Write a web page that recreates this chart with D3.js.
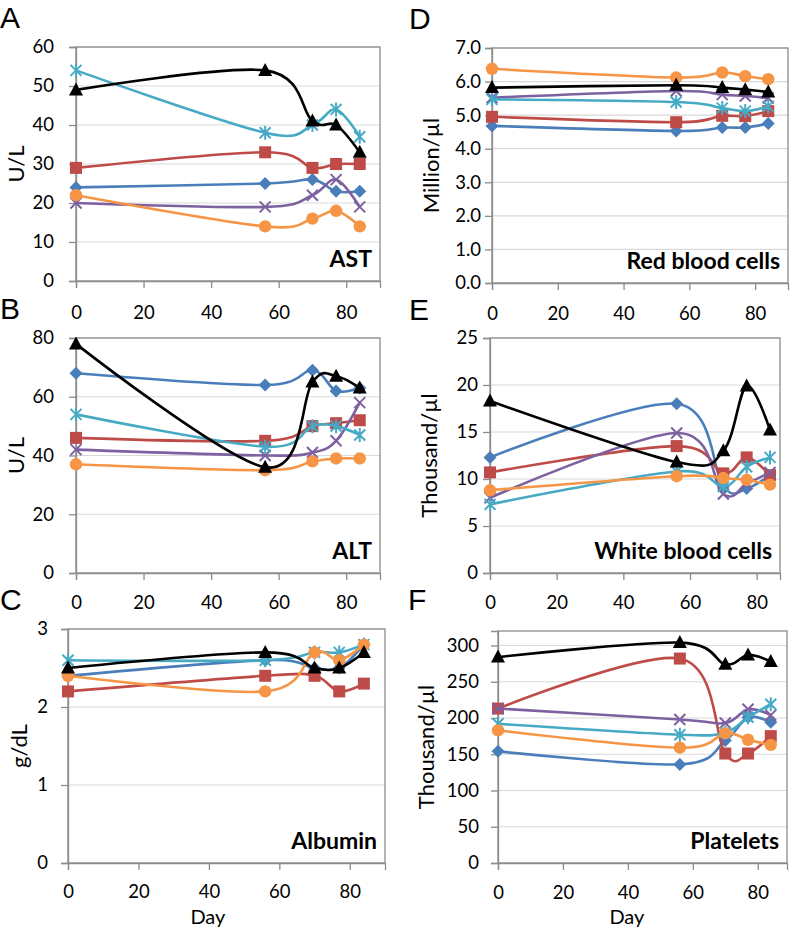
<!DOCTYPE html>
<html>
<head>
<meta charset="utf-8">
<script src="https://cdn.jsdelivr.net/npm/d3@7/dist/d3.min.js"></script>
<style>
  html, body { margin: 0; padding: 0; background: #fff; }
  svg { display: block; font-family: Lato, "Open Sans", sans-serif; }
</style>
</head>
<body>
<svg id="chart" width="799" height="929"></svg>
<script>
// ---------- DATA ----------
const days = [0, 56, 70, 77, 84];
const xTicks = [0, 20, 40, 60, 80];
const seriesKeys = ["blue", "red", "purple", "cyan", "orange", "black"];

// A: AST (U/L)
const astBlue   = [24, 25, 26, 23, 23];
const astRed    = [29, 33, 29, 30, 30];
const astPurple = [20, 19, 22, 26, 19];
const astCyan   = [54, 38, 40, 44, 37];
const astOrange = [22, 14, 16, 18, 14];
const astBlack  = [49, 54, 41, 40, 33];
const astTicks  = [0, 10, 20, 30, 40, 50, 60];

// B: ALT (U/L)
const altBlue   = [68, 64, 69, 62, 63];
const altRed    = [46, 45, 50, 51, 52];
const altPurple = [42, 40, 41, 45, 58];
const altCyan   = [54, 43, 50, 50, 47];
const altOrange = [37, 35, 38, 39, 39];
const altBlack  = [78, 36, 65, 67, 63];
const altTicks  = [0, 20, 40, 60, 80];

// C: Albumin (g/dL)
const albBlue   = [2.4, 2.6, 2.5, 2.5, 2.8];
const albRed    = [2.2, 2.4, 2.4, 2.2, 2.3];
const albPurple = null;
const albCyan   = [2.6, 2.6, 2.7, 2.7, 2.8];
const albOrange = [2.4, 2.2, 2.7, 2.6, 2.8];
const albBlack  = [2.5, 2.7, 2.5, 2.5, 2.7];
const albTicks  = [0, 1, 2, 3];

// D: Red blood cells (Million/µl)
const rbcBlue   = [4.68, 4.53, 4.63, 4.63, 4.75];
const rbcRed    = [4.95, 4.79, 4.98, 4.97, 5.12];
const rbcPurple = [5.52, 5.72, 5.61, 5.57, 5.51];
const rbcCyan   = [5.47, 5.39, 5.21, 5.12, 5.26];
const rbcOrange = [6.38, 6.12, 6.27, 6.16, 6.07];
const rbcBlack  = [5.82, 5.89, 5.82, 5.76, 5.69];
const rbcTicks  = [0, 1, 2, 3, 4, 5, 6, 7];

// E: White blood cells (Thousand/µl)
const wbcBlue   = [12.3, 18.0, 9.2, 9.0, 10.4];
const wbcRed    = [10.7, 13.5, 10.6, 12.3, 10.4];
const wbcPurple = [8.0, 14.9, 8.4, 9.5, 10.7];
const wbcCyan   = [7.3, 10.8, 9.2, 11.3, 12.3];
const wbcOrange = [8.8, 10.3, 10.1, 9.9, 9.4];
const wbcBlack  = [18.3, 11.8, 13.0, 19.9, 15.2];
const wbcTicks  = [0, 5, 10, 15, 20, 25];

// F: Platelets (Thousand/µl)
const pltBlue   = [154, 136, 169, 201, 194];
const pltRed    = [213, 282, 151, 151, 175];
const pltPurple = [213, 198, 193, 212, 204];
const pltCyan   = [192, 177, 180, 201, 219];
const pltOrange = [183, 159, 179, 170, 163];
const pltBlack  = [284, 304, 274, 287, 278];
const pltTicks  = [0, 50, 100, 150, 200, 250, 300];

const panels = [
  { letter: "A", title: "AST", ylabel: "U/L", yMax: 60, ticks: astTicks, fmt: d3.format("d"),
    series: [astBlue, astRed, astPurple, astCyan, astOrange, astBlack] },
  { letter: "B", title: "ALT", ylabel: "U/L", yMax: 80, ticks: altTicks, fmt: d3.format("d"),
    series: [altBlue, altRed, altPurple, altCyan, altOrange, altBlack] },
  { letter: "C", title: "Albumin", ylabel: "g/dL", yMax: 3, ticks: albTicks, fmt: d3.format("d"), xTitle: "Day",
    series: [albBlue, albRed, albPurple, albCyan, albOrange, albBlack] },
  { letter: "D", title: "Red blood cells", ylabel: "Million/\u00b5l", yMax: 7, ticks: rbcTicks, fmt: d3.format(".1f"),
    series: [rbcBlue, rbcRed, rbcPurple, rbcCyan, rbcOrange, rbcBlack] },
  { letter: "E", title: "White blood cells", ylabel: "Thousand/\u00b5l", yMax: 25, ticks: wbcTicks, fmt: d3.format("d"),
    series: [wbcBlue, wbcRed, wbcPurple, wbcCyan, wbcOrange, wbcBlack] },
  { letter: "F", title: "Platelets", ylabel: "Thousand/\u00b5l", yMax: 320, ticks: pltTicks, fmt: d3.format("d"), xTitle: "Day",
    series: [pltBlue, pltRed, pltPurple, pltCyan, pltOrange, pltBlack] }
];

// ---------- LAYOUT / STYLE ----------
const layout = [
  { left: 76,  right: 380, top: 47,  bottom: 281, xMax: 90, labGap: 22, letX: 0,   letY: 28,  ylabX: 15,  xlabY: 319 },
  { left: 76,  right: 380, top: 338, bottom: 573, xMax: 90, labGap: 22, letX: 0,   letY: 319, ylabX: 15,  xlabY: 609 },
  { left: 68,  right: 385, top: 629, bottom: 863, xMax: 90, labGap: 20, letX: 0,   letY: 610, ylabX: 18,  xlabY: 898 },
  { left: 492, right: 788, top: 48,  bottom: 283, xMax: 90, labGap: 11, letX: 409, letY: 29,  ylabX: 430, xlabY: 320 },
  { left: 490, right: 780, top: 338, bottom: 573, xMax: 87, labGap: 12, letX: 409, letY: 320, ylabX: 428, xlabY: 609 },
  { left: 498, right: 787, top: 631, bottom: 863, xMax: 89, labGap: 19, letX: 408, letY: 610, ylabX: 425, xlabY: 899 }
];
const colors = { blue: "#4A7EBB", red: "#BE4B48", purple: "#7D60A0", cyan: "#46AAC5", orange: "#F59545", black: "#000000" };
const markers = { blue: "diamond", red: "square", purple: "x", cyan: "star", orange: "circle", black: "triangle" };
const axisColor = "#8c8c8c";
const gridColor = "#d9d9d9";

const svg = d3.select("#chart");

function drawMarker(g, type, color) {
  if (type === "diamond") {
    g.append("path").attr("d", "M0,-6.5L6.5,0L0,6.5L-6.5,0Z").attr("fill", color);
  } else if (type === "square") {
    g.append("rect").attr("x", -6).attr("y", -6).attr("width", 12).attr("height", 12).attr("fill", color);
  } else if (type === "circle") {
    g.append("circle").attr("r", 6.2).attr("fill", color);
  } else if (type === "triangle") {
    g.append("path").attr("d", "M0,-7.5L7,5.5L-7,5.5Z").attr("fill", color);
  } else if (type === "x") {
    g.append("path").attr("d", "M-5.5,-5.5L5.5,5.5M-5.5,5.5L5.5,-5.5").attr("stroke", color).attr("stroke-width", 2).attr("fill", "none");
  } else if (type === "star") {
    g.append("path").attr("d", "M-5.5,-5.5L5.5,5.5M-5.5,5.5L5.5,-5.5M0,-7L0,7").attr("stroke", color).attr("stroke-width", 2).attr("fill", "none");
  }
}

panels.forEach((p, i) => {
  const L = layout[i];
  const x = d3.scaleLinear().domain([0, L.xMax]).range([L.left, L.right]);
  const y = d3.scaleLinear().domain([0, p.yMax]).range([L.bottom, L.top]);
  const g = svg.append("g");

  // gridlines
  g.append("g").selectAll("line").data(p.ticks.filter(t => t > 0)).join("line")
    .attr("x1", L.left).attr("x2", L.right)
    .attr("y1", d => y(d)).attr("y2", d => y(d))
    .attr("stroke", gridColor).attr("stroke-width", 1.2);

  // plot border
  g.append("rect").attr("x", L.left).attr("y", L.top)
    .attr("width", L.right - L.left).attr("height", L.bottom - L.top)
    .attr("fill", "none").attr("stroke", axisColor).attr("stroke-width", 1.3);

  // y axis
  const ya = g.append("g").attr("transform", `translate(${L.left},0)`)
    .call(d3.axisLeft(y).tickValues(p.ticks).tickFormat(p.fmt).tickSize(7).tickPadding(L.labGap - 7));
  // x axis
  const xa = g.append("g").attr("transform", `translate(0,${L.bottom})`)
    .call(d3.axisBottom(x).tickValues(xTicks).tickFormat(d3.format("d")).tickSize(7).tickPadding(14));
  [ya, xa].forEach(a => {
    a.select(".domain").attr("stroke", axisColor).attr("stroke-width", 1.3);
    a.selectAll(".tick line").attr("stroke", axisColor).attr("stroke-width", 1.3);
    a.selectAll("text").attr("fill", "#000").attr("font-size", 18.5).attr("font-family", "Lato, sans-serif");
  });
  xa.selectAll("text").attr("dy", null).attr("y", null).attr("transform", null)
    .attr("y", L.xlabY - L.bottom).attr("dominant-baseline", "alphabetic");

  // series
  const line = d3.line().x((d, j) => x(days[j])).y(d => y(d)).curve(d3.curveCardinal.tension(0));
  seriesKeys.forEach((k, si) => {
    const vals = p.series[si];
    if (!vals) return;
    const sg = g.append("g");
    sg.append("path").attr("d", line(vals)).attr("fill", "none")
      .attr("stroke", colors[k]).attr("stroke-width", 2.6);
    vals.forEach((v, j) => {
      const mg = sg.append("g").attr("transform", `translate(${x(days[j])},${y(v)})`);
      drawMarker(mg, markers[k], colors[k]);
    });
  });

  // panel title
  g.append("text").attr("x", L.right - 8).attr("y", L.bottom - 14)
    .attr("text-anchor", "end").attr("font-weight", "bold").attr("font-size", 23)
    .text(p.title);

  // y label
  g.append("text").attr("transform", `translate(${L.ylabX},${(L.top + L.bottom) / 2}) rotate(-90)`)
    .attr("text-anchor", "middle").attr("dominant-baseline", "central").attr("font-size", 22)
    .text(p.ylabel);

  // x title
  if (p.xTitle) {
    g.append("text").attr("x", x(40) - 1).attr("y", 924)
      .attr("text-anchor", "middle").attr("font-size", 20).text(p.xTitle);
  }

  // panel letter
  g.append("text").attr("x", L.letX).attr("y", L.letY)
    .attr("font-size", 30).attr("font-family", "'Liberation Sans', Arial, sans-serif")
    .text(p.letter);
});
</script>
</body>
</html>
